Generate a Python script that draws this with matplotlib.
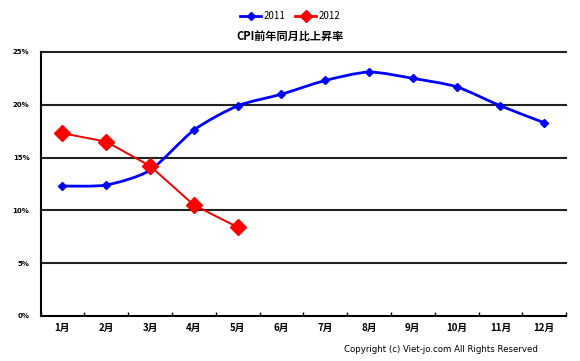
import numpy as np
import matplotlib

matplotlib.use("Agg")

import matplotlib.pyplot as plt
from matplotlib.path import Path
from matplotlib.patches import PathPatch

plt.rcParams["font.family"] = ["Noto Sans CJK JP", "DejaVu Sans"]

months = ["1月", "2月", "3月", "4月", "5月", "6月",
          "7月", "8月", "9月", "10月", "11月", "12月"]
cpi_2011 = [12.3, 12.4, 13.8, 17.6, 19.9, 21.0, 22.3, 23.1, 22.5, 21.7, 19.9, 18.3]
cpi_2012 = [17.3, 16.5, 14.2, 10.5, 8.4]
y_ticks = [0, 5, 10, 15, 20, 25]
y_labels = ["0%", "5%", "10%", "15%", "20%", "25%"]


def smooth_path(xs, ys, k=1 / 8.0):
    # Catmull-Rom style bezier, like an Excel "smoothed line"
    pts = np.column_stack([xs, ys])
    verts = [pts[0]]
    codes = [Path.MOVETO]
    for i in range(len(pts) - 1):
        p0 = pts[max(i - 1, 0)]
        p1 = pts[i]
        p2 = pts[i + 1]
        p3 = pts[min(i + 2, len(pts) - 1)]
        c1 = p1 + (p2 - p0) * k
        c2 = p2 - (p3 - p1) * k
        verts += [c1, c2, p2]
        codes += [Path.CURVE4] * 3
    return Path(verts, codes)


fig = plt.figure(figsize=(5.8, 3.61), dpi=100)
ax = fig.add_axes([0.07, 0.125, 0.906, 0.731])

x11 = np.arange(len(cpi_2011))
x12 = np.arange(len(cpi_2012))

ax.add_patch(PathPatch(smooth_path(x11, cpi_2011), fill=False,
                       edgecolor="#0000ff", lw=2.0, zorder=3))
ax.plot(x11, cpi_2011, ls="none", marker="D", ms=4.5,
        color="#0000ff", zorder=4)
ax.plot(x12, cpi_2012, color="#ee0000", lw=1.4, marker="D", ms=8,
        mfc="#ff0000", mec="#ff0000", zorder=5)

ax.set_xlim(-0.5, len(months) - 0.5)
ax.set_ylim(0, 25)

for v in y_ticks[1:]:
    ax.axhline(v, color="#222222", lw=1.5, zorder=1, clip_on=False)

ax.set_yticks(y_ticks)
ax.set_yticklabels(y_labels, fontsize=5, fontweight="bold", family="DejaVu Sans")
ax.set_xticks(np.arange(len(months)))
ax.set_xticklabels(months, fontsize=7, fontweight="bold")
ax.tick_params(axis="y", length=0, pad=8)
ax.tick_params(axis="x", length=0, pad=5)
ax.set_xticks(np.arange(len(months) + 1) - 0.5, minor=True)
ax.tick_params(axis="x", which="minor", direction="in", length=3, width=1)

for side in ["top", "right"]:
    ax.spines[side].set_visible(False)
ax.spines["left"].set_linewidth(1.5)
ax.spines["bottom"].set_linewidth(1.5)

# legend and title
ax.plot([], [], color="#0000ff", lw=2, marker="D", ms=4, label="2011")
ax.plot([], [], color="#ff0000", lw=2, marker="D", ms=6, label="2012")
fig.legend(loc="center", bbox_to_anchor=(0.5, 0.955), ncol=2, frameon=False,
           fontsize=7, handlelength=2.2, columnspacing=1.0, handletextpad=0.2)

fig.text(0.5, 0.9, "CPI前年同月比上昇率", ha="center", va="center",
         fontsize=8, fontweight="bold")
fig.text(0.76, 0.033, "Copyright (c) Viet-jo.com All Rights Reserved",
         ha="center", va="center", fontsize=6.2, family="DejaVu Sans")

fig.savefig("out.png", dpi=100)
